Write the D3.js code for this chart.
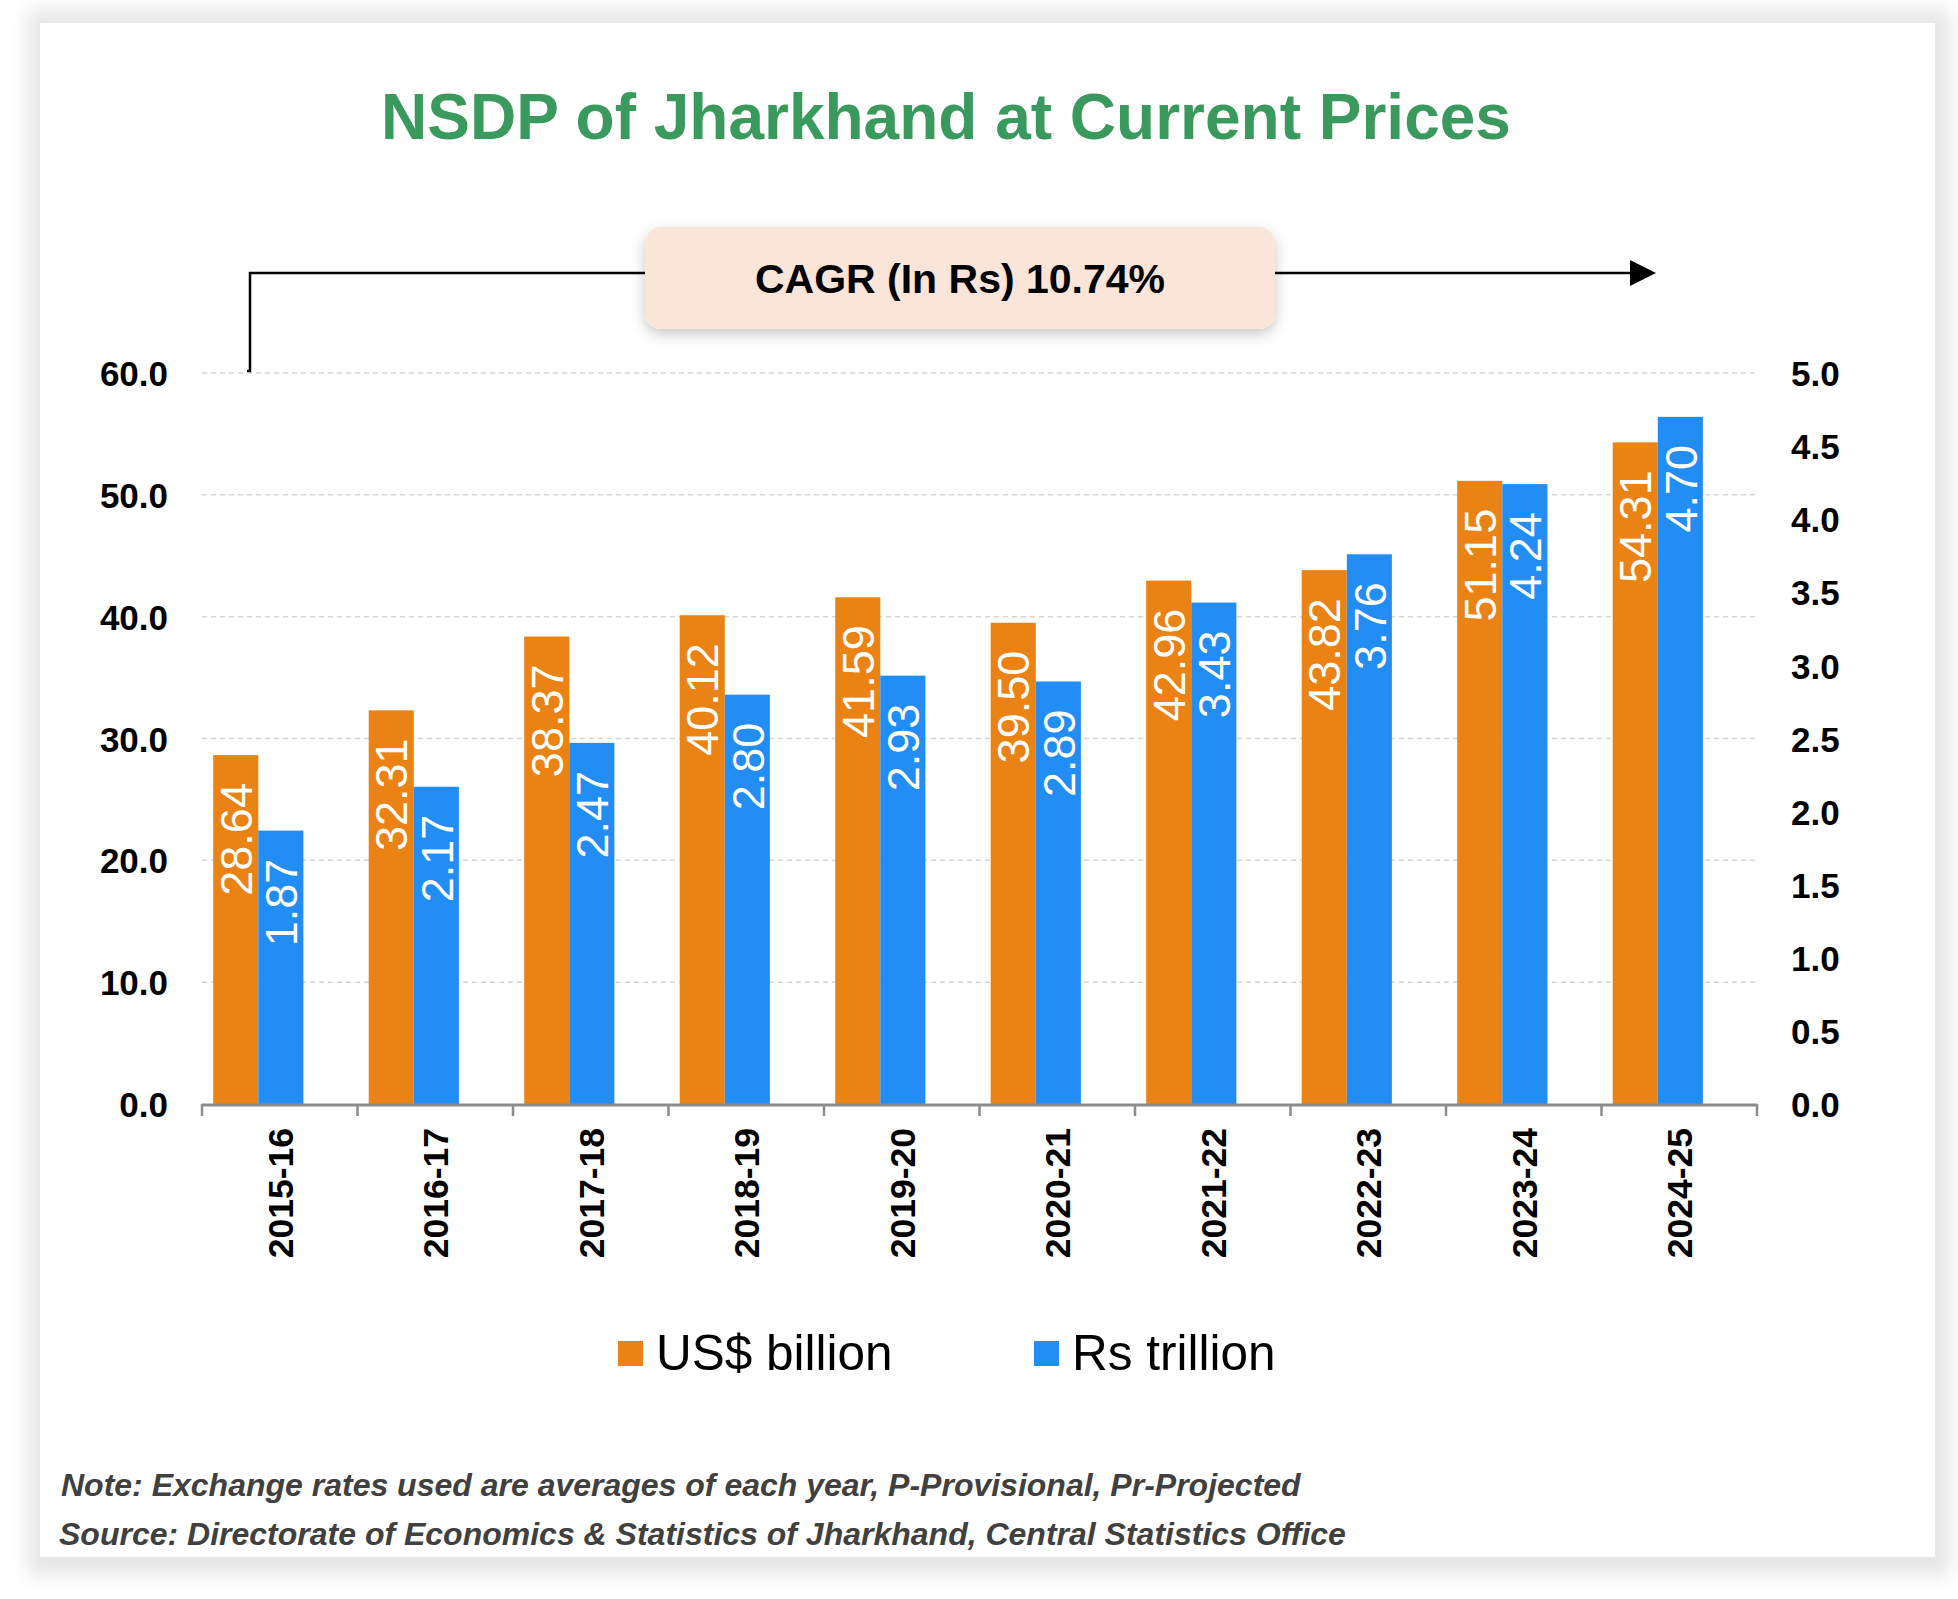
<!DOCTYPE html>
<html>
<head>
<meta charset="utf-8">
<script src="https://cdnjs.cloudflare.com/ajax/libs/d3/7.8.5/d3.min.js"></script>
<style>
    html, body { margin: 0; padding: 0; background: #ffffff; }
    svg { display: block; font-family: "Liberation Sans", Arial, sans-serif; }
</style>
</head>
<body>
<div id="chart"></div>
<script>
// chart values
var years = ['2015-16', '2016-17', '2017-18', '2018-19', '2019-20', '2020-21', '2021-22', '2022-23', '2023-24', '2024-25'];
var usdBillion = [28.64, 32.31, 38.37, 40.12, 41.59, 39.50, 42.96, 43.82, 51.15, 54.31];
var rsTrillion = [1.87, 2.17, 2.47, 2.80, 2.93, 2.89, 3.43, 3.76, 4.24, 4.70];
var leftTicks = [0, 10, 20, 30, 40, 50, 60];
var rightTicks = [0, 0.5, 1, 1.5, 2, 2.5, 3, 3.5, 4, 4.5, 5];
var seriesNames = ['US$ billion', 'Rs trillion'];
var seriesColors = ['#EA8314', '#238DF6'];

var W = 1958,
    H = 1599;

var plot = { left: 202, right: 1757, top: 373, bottom: 1104 };

var svg = d3.select('#chart').append('svg')
    .attr('width', W)
    .attr('height', H);

var defs = svg.append('defs');

defs.append('filter')
    .attr('id', 'cardShadow')
    .attr('x', '-5%').attr('y', '-5%')
    .attr('width', '110%').attr('height', '110%')
    .append('feGaussianBlur')
    .attr('stdDeviation', 9);

var boxShadow = defs.append('filter')
    .attr('id', 'boxShadow')
    .attr('x', '-20%').attr('y', '-40%')
    .attr('width', '140%').attr('height', '180%');
boxShadow.append('feDropShadow')
    .attr('dx', 0).attr('dy', 5)
    .attr('stdDeviation', 7)
    .attr('flood-color', '#000')
    .attr('flood-opacity', 0.22);

// card with soft grey border
svg.append('rect')
    .attr('x', 28).attr('y', 10)
    .attr('width', 1922).attr('height', 1565)
    .attr('fill', '#e6e6e6')
    .attr('filter', 'url(#cardShadow)');

svg.append('rect')
    .attr('x', 40).attr('y', 23)
    .attr('width', 1895).attr('height', 1534)
    .attr('fill', '#ffffff');

svg.append('text')
    .attr('x', 946)
    .attr('y', 139)
    .attr('text-anchor', 'middle')
    .style('font-size', '64px')
    .style('font-weight', 'bold')
    .style('fill', '#3A9A5E')
    .text('NSDP of Jharkhand at Current Prices');

var x = d3.scaleBand()
    .domain(years)
    .range([plot.left, plot.right]);

var bw = x.bandwidth();

var xSub = d3.scaleBand()
    .domain(seriesNames)
    .range([0.072 * bw, 0.652 * bw]);

var yL = d3.scaleLinear().domain([0, 60]).range([plot.bottom, plot.top]);
var yR = d3.scaleLinear().domain([0, 5]).range([plot.bottom, plot.top]);

// gridlines
svg.append('g')
    .attr('class', 'grid')
    .selectAll('line')
    .data(leftTicks.slice(1))
    .enter().append('line')
    .attr('x1', plot.left)
    .attr('x2', plot.right)
    .attr('y1', function (d) { return yL(d); })
    .attr('y2', function (d) { return yL(d); })
    .style('stroke', '#d6d6d6')
    .style('stroke-width', 1.5)
    .style('stroke-dasharray', '5,4');

// left / right axes
var leftAxis = svg.append('g')
    .attr('transform', 'translate(' + plot.left + ',0)')
    .call(d3.axisLeft(yL).tickValues(leftTicks).tickFormat(d3.format('.1f')).tickSize(0).tickPadding(34));

var rightAxis = svg.append('g')
    .attr('transform', 'translate(' + plot.right + ',0)')
    .call(d3.axisRight(yR).tickValues(rightTicks).tickFormat(d3.format('.1f')).tickSize(0).tickPadding(34));

[leftAxis, rightAxis].forEach(function (g) {
    g.select('.domain').remove();
    g.selectAll('text')
        .attr('dy', '0.36em')
        .style('font-family', '"Liberation Sans", Arial, sans-serif')
        .style('font-size', '35px')
        .style('font-weight', 'bold')
        .style('fill', '#000');
});

// bars
var groups = svg.append('g')
    .attr('class', 'bars')
    .selectAll('.year')
    .data(years)
    .enter().append('g')
    .attr('class', 'year')
    .attr('transform', function (d) { return 'translate(' + x(d) + ',0)'; });

function barData(d, i) {
    return [
        { name: seriesNames[0], value: usdBillion[i], y: yL(usdBillion[i]), color: seriesColors[0] },
        { name: seriesNames[1], value: rsTrillion[i], y: yR(rsTrillion[i]), color: seriesColors[1] }
    ];
}

var bars = groups.selectAll('.bar')
    .data(barData)
    .enter().append('g')
    .attr('class', 'bar');

bars.append('rect')
    .attr('x', function (d) { return xSub(d.name); })
    .attr('y', function (d) { return d.y; })
    .attr('width', xSub.bandwidth())
    .attr('height', function (d) { return plot.bottom - d.y; })
    .style('fill', function (d) { return d.color; });

bars.append('text')
    .attr('transform', function (d) {
        return 'translate(' + (xSub(d.name) + xSub.bandwidth() / 2) + ',' + (d.y + 28) + ') rotate(-90)';
    })
    .attr('text-anchor', 'end')
    .attr('dy', '0.36em')
    .style('font-size', '45px')
    .style('fill', '#ffffff')
    .text(function (d) { return d.value.toFixed(2); });

// x axis
var xAxis = svg.append('g').attr('class', 'x-axis');

xAxis.append('line')
    .attr('x1', plot.left).attr('x2', plot.right)
    .attr('y1', plot.bottom + 1).attr('y2', plot.bottom + 1)
    .style('stroke', '#8c8c8c')
    .style('stroke-width', 3);

xAxis.selectAll('.tick-mark')
    .data(years.map(function (d) { return x(d); }).concat([plot.right]))
    .enter().append('line')
    .attr('class', 'tick-mark')
    .attr('x1', function (d) { return d; })
    .attr('x2', function (d) { return d; })
    .attr('y1', plot.bottom)
    .attr('y2', plot.bottom + 12)
    .style('stroke', '#8c8c8c')
    .style('stroke-width', 2.5);

xAxis.selectAll('.label')
    .data(years)
    .enter().append('text')
    .attr('class', 'label')
    .attr('transform', function (d) {
        return 'translate(' + (x(d) + bw / 2) + ',' + (plot.bottom + 24) + ') rotate(-90)';
    })
    .attr('text-anchor', 'end')
    .attr('dy', '0.36em')
    .style('font-size', '35.5px')
    .style('font-weight', 'bold')
    .style('fill', '#000')
    .text(function (d) { return d; });

// CAGR annotation
var arrow = svg.append('g').attr('class', 'cagr');

arrow.append('path')
    .attr('d', 'M247,' + (plot.top - 2) + 'H250V273H646M1275,273H1634')
    .style('fill', 'none')
    .style('stroke', '#000')
    .style('stroke-width', 2.5);

arrow.append('path')
    .attr('d', 'M1630,260L1656,273L1630,286Z')
    .style('fill', '#000');

arrow.append('rect')
    .attr('x', 645).attr('y', 227)
    .attr('width', 630).attr('height', 102)
    .attr('rx', 16)
    .style('fill', '#FAE5D8')
    .attr('filter', 'url(#boxShadow)');

arrow.append('text')
    .attr('x', 960)
    .attr('y', 293)
    .attr('text-anchor', 'middle')
    .style('font-size', '41px')
    .style('font-weight', 'bold')
    .style('fill', '#000')
    .text('CAGR (In Rs) 10.74%');

// legend
var legendX = [618, 1034];

var legendItem = svg.append('g')
    .attr('class', 'legend')
    .selectAll('.item')
    .data(seriesNames)
    .enter().append('g')
    .attr('class', 'item')
    .attr('transform', function (d, i) { return 'translate(' + legendX[i] + ',1341)'; });

legendItem.append('rect')
    .attr('width', 25)
    .attr('height', 25)
    .style('fill', function (d, i) { return seriesColors[i]; });

legendItem.append('text')
    .attr('x', 38)
    .attr('y', 29)
    .style('font-size', '49.5px')
    .style('fill', '#000')
    .text(function (d) { return d; });

// notes
var notes = ['Note: Exchange rates used are averages of each year, P-Provisional, Pr-Projected',
    'Source: Directorate of Economics & Statistics of Jharkhand, Central Statistics Office'];

svg.append('g')
    .selectAll('text')
    .data(notes)
    .enter().append('text')
    .attr('x', function (d, i) { return i == 0 ? 61 : 59; })
    .attr('y', function (d, i) { return 1496 + i * 49; })
    .style('font-size', '32px')
    .style('font-weight', 'bold')
    .style('font-style', 'italic')
    .style('fill', '#404040')
    .text(function (d) { return d; });
</script>
</body>
</html>
